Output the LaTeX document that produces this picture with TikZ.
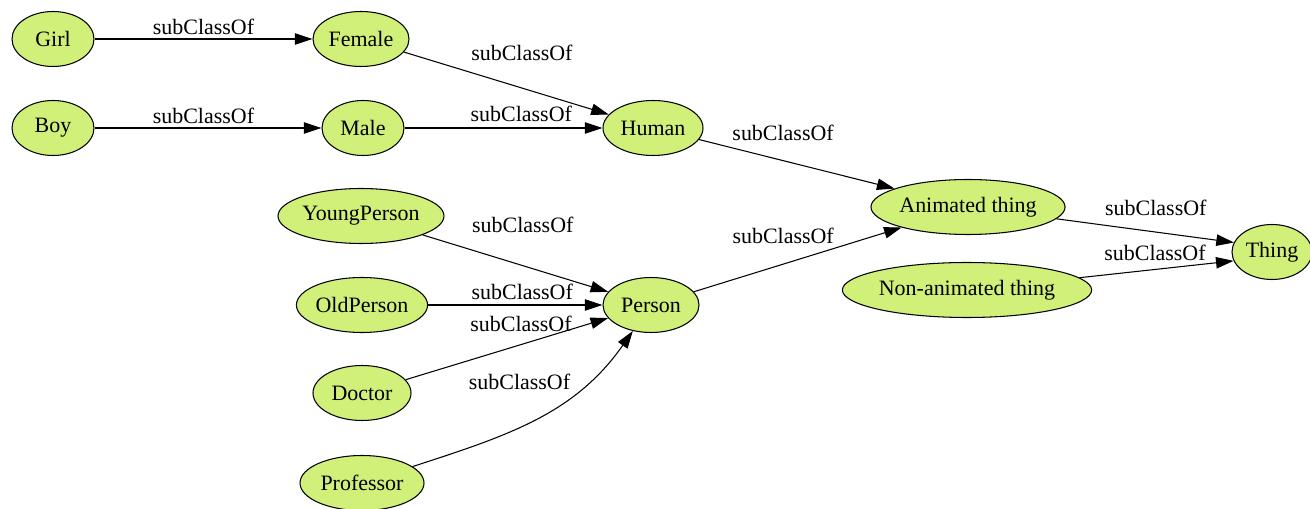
\documentclass[tikz,border=0pt]{standalone}
\usepackage{fontspec}
\setmainfont{Liberation Serif}
\usetikzlibrary{shapes.geometric, arrows.meta}
\definecolor{classgreen}{RGB}{208,240,122}

\begin{document}
\begin{tikzpicture}[x=0.02cm, y=0.02cm,
		every node/.style={font=\fontsize{12.5}{15}\selectfont},
		cls/.style={ellipse, draw=black, line width=0.6pt, fill=classgreen, inner sep=0pt,
			minimum height=1.1cm, minimum width={#1*0.02cm}},
		rel/.style={-{Triangle[length=10pt, width=6.5pt]}, line width=0.6pt},
		lbl/.style={inner sep=0pt}]
	\useasboundingbox (0,0) rectangle (1310,-509);
	
	% 类节点
	\node[cls=82]  (girl)      at (53,-39)   {Girl};
	\node[cls=96]  (female)    at (361,-39)  {Female};
	\node[cls=82]  (boy)       at (53,-128)  {Boy};
	\node[cls=82]  (male)      at (363,-128) {Male};
	\node[cls=100] (human)     at (653,-128) {Human};
	\node[cls=174] (animated)  at (968,-207) {Animated thing};
	\node[cls=80]  (thing)     at (1272,-252) {Thing};
	\node[cls=210] (nonanim)   at (967,-290) {Non-animated thing};
	\node[cls=154] (young)     at (361,-216) {YoungPerson};
	\node[cls=130] (old)       at (362,-305) {OldPerson};
	\node[cls=96]  (person)    at (651,-305) {Person};
	\node[cls=98]  (doctor)    at (362,-393) {Doctor};
	\node[cls=124] (professor) at (362,-483) {Professor};
	
	% subClassOf 边
	\draw[rel] (girl) -- node[lbl, yshift=7pt] {subClassOf} (female);
	\draw[rel] (boy) -- node[lbl, pos=0.48, yshift=7pt] {subClassOf} (male);
	\draw[rel] (female) -- node[lbl, pos=0.576, yshift=20pt] {subClassOf} (human);
	\draw[rel] (male) -- node[lbl, pos=0.59, yshift=8pt] {subClassOf} (human);
	\draw[rel] (human) -- node[lbl, pos=0.43, yshift=16pt] {subClassOf} (animated);
	\draw[rel] (young) -- node[lbl, pos=0.54, yshift=23pt] {subClassOf} (person);
	\draw[rel] (old) -- node[lbl, pos=0.54, yshift=7.4pt] {subClassOf} (person);
	\draw[rel] (doctor) -- node[lbl, pos=0.57, yshift=12pt] {subClassOf} (person);
	\draw[rel] (professor) to[out=18, in=235] node[lbl, pos=0.42, yshift=26pt] {subClassOf} (person);
	\draw[rel] (person) -- node[lbl, pos=0.43, yshift=16pt] {subClassOf} (animated);
	\draw[rel] (animated) -- node[lbl, pos=0.56, yshift=14pt] {subClassOf} (thing.166);
	\draw[rel] (nonanim) -- node[lbl, pos=0.49, yshift=9.7pt] {subClassOf} (thing.193);
	
\end{tikzpicture}
\end{document}
